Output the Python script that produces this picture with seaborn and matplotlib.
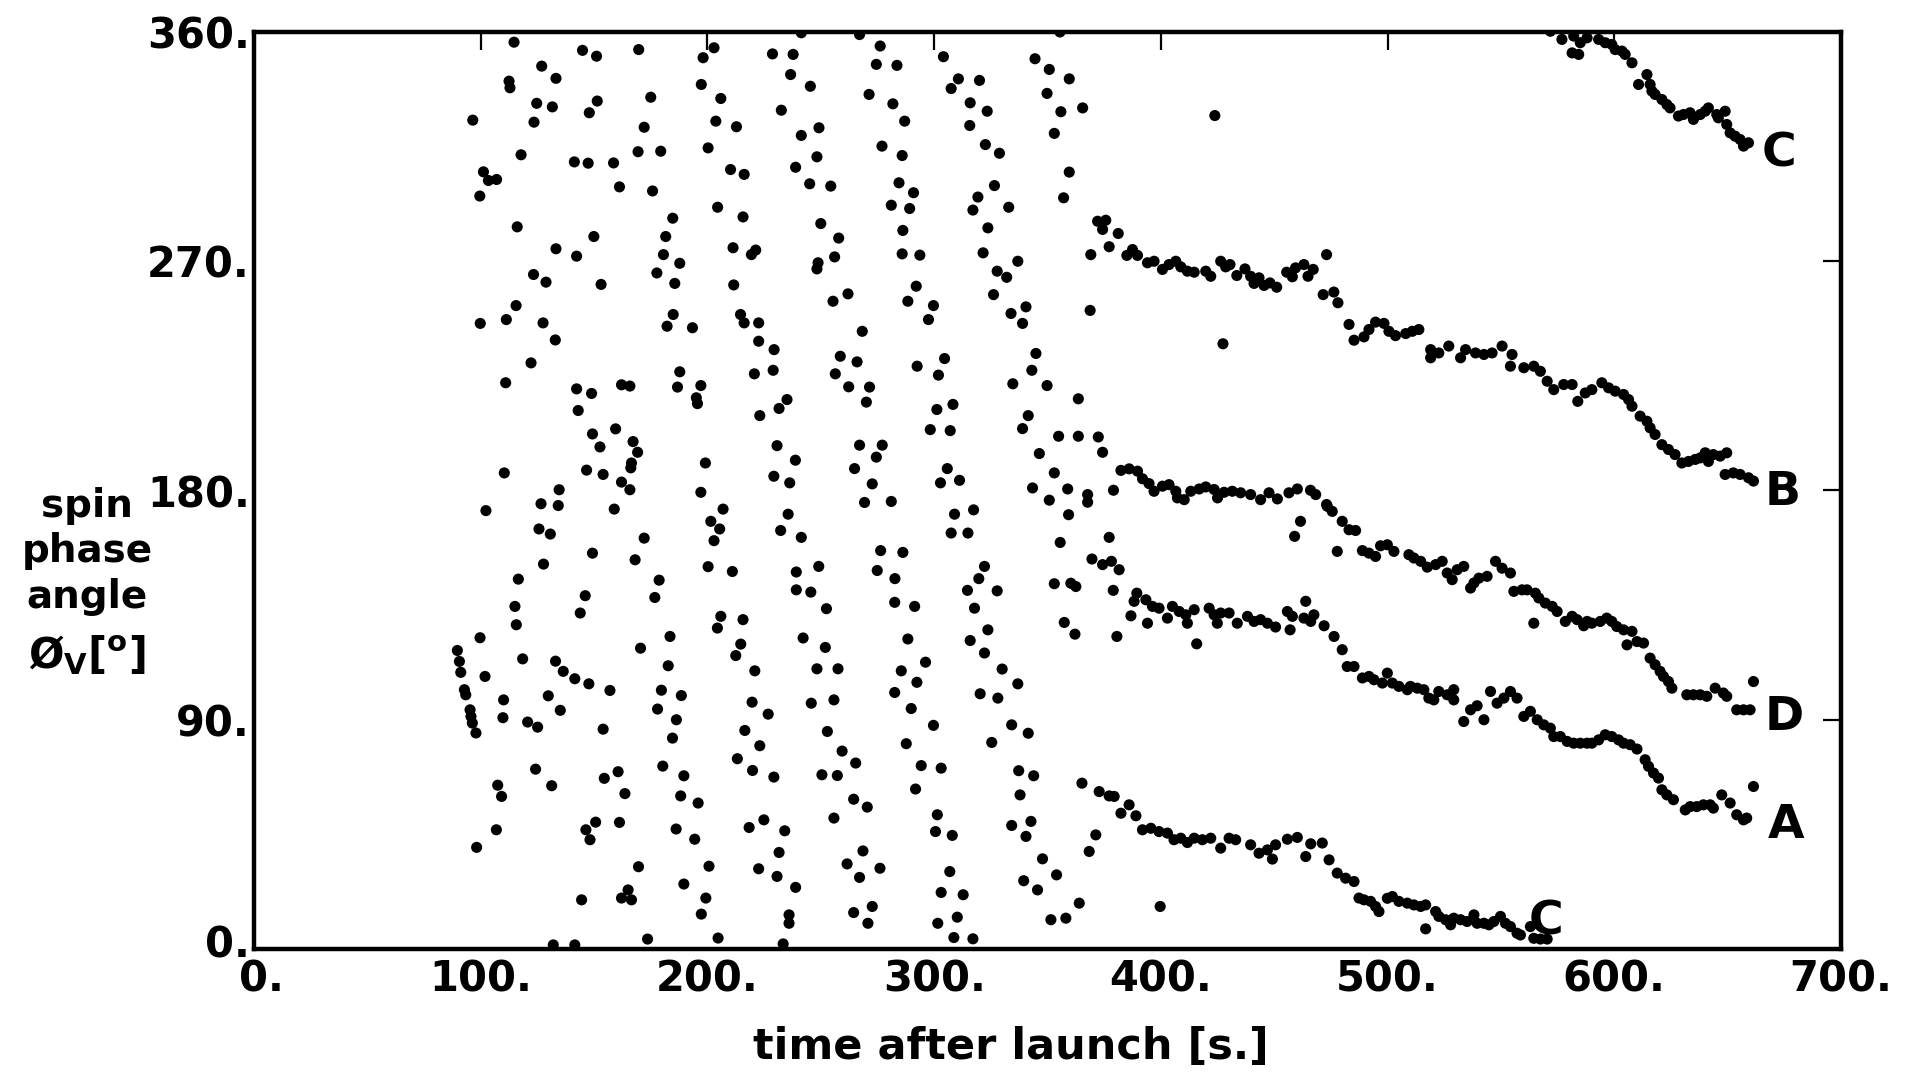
import matplotlib
matplotlib.use("Agg")
import matplotlib.pyplot as plt
import matplotlib.transforms as mtransforms
import pandas as pd
import seaborn as sns

# ---- measured spin phase angle (deg) vs time after launch (s) ----
# irregular phase readings during the first minutes (time, phase)
burst_early = [
    (114.7, 356), (144.9, 352.8), (151.1, 350.5), (169.7, 353.1), (198.1, 349.9), (202.9, 353.8),
    (126.9, 346.6), (133.2, 341.8), (112.5, 340.7), (112.9, 338.1), (197.3, 339.4), (175.0, 334.4),
    (205.9, 333.9), (124.7, 332), (131.6, 330.6), (151.4, 332.9), (147.9, 328.3), (96.5, 325.4),
    (123.5, 324.6), (172.1, 322.6), (203.7, 325), (117.8, 311.8), (141.3, 309), (147.4, 308.5),
    (158.6, 308.6), (169.4, 313), (179.4, 313.2), (200.3, 314.5), (101.2, 305.1), (103.4, 301.7),
    (107.0, 302.1), (99.6, 295.6), (161.2, 299.2), (175.8, 297.6), (204.5, 291.2), (116.1, 283.5),
    (184.7, 286.9), (149.9, 279.7), (181.6, 279.7), (133.2, 274.9), (142.3, 272), (180.6, 272.6),
    (187.8, 269.2), (123.3, 264.8), (128.8, 261.8), (153.1, 260.9), (177.7, 265.4), (185.6, 261.3),
    (115.6, 252.6), (99.8, 245.6), (111.3, 247.1), (127.5, 245.8), (132.9, 239.1), (184.9, 249.1),
    (182.2, 244.5), (193.4, 243.9), (122.2, 230.1), (111, 222.3), (142.3, 219.9), (148.9, 218.1),
    (162.1, 221.5), (165.8, 221), (187.8, 226.6), (186.8, 220.6), (197.1, 221.2), (195.1, 216.4),
    (195.6, 214.1), (143, 211.4), (149.3, 202.2), (159.5, 204.2), (152.6, 197.1), (167.2, 199.2),
    (169.2, 195), (166.5, 190.8), (166.2, 188.9), (199.1, 190.8), (110.4, 186.9), (146.7, 188),
    (154, 186.3), (162.1, 183.3),
    (134.6, 180.3), (165.8, 180.3), (197.1, 179.3), (126.6, 174.8), (134.2, 174.1), (158.9, 172.7),
    (102.3, 172.1), (201.5, 167.9), (205.4, 164.9), (125.7, 164.9), (130.7, 162.9), (172.1, 161.3),
    (202.9, 160.3), (149.3, 155.4), (127.7, 151.1), (168.1, 152.8), (200.3, 150.1), (116.6, 145.2),
    (178.7, 144.8), (146.1, 138.7), (176.8, 138), (115.1, 134.5), (143.9, 131.9), (205.9, 130.6),
    (204.4, 126), (115.7, 127.3), (99.7, 122.2), (183.5, 122.7), (89.7, 117.2), (90.6, 112.9),
    (91.2, 108.6), (170.5, 118.1), (118.5, 113.9), (133, 113), (136.4, 109), (101.9, 107),
    (182.7, 111.2), (141.5, 106.1), (147.7, 104.1), (157, 101.5), (92.8, 101.8), (93.4, 99.8),
    (110.1, 97.8), (129.8, 99.4), (179.7, 101.6), (188.5, 99.5), (95.3, 93.9), (95.7, 91.3),
    (96.3, 88.7), (97.9, 84.8), (109.8, 90.8), (135.1, 93.7), (120.7, 89.1), (125.1, 87.1),
    (178, 94.2), (186.3, 90), (154, 86.3), (184.6, 82.8), (180.3, 71.8), (124.2, 70.6),
    (160.6, 69.6), (154.5, 67), (189.6, 68), (107.5, 64.3), (109.2, 59.9), (131.3, 64.1),
    (163.6, 61), (188.2, 60.1), (195.9, 57.3), (150.7, 49.8), (161.2, 49.7), (106.9, 46.8),
    (146.4, 46.8), (148.2, 42.9), (186.2, 47.1), (194.4, 43.1), (98.2, 39.9), (169.6, 32.3),
    (200.7, 32.5), (189.6, 25.5), (165, 23.2), (162.1, 20), (166.5, 19.3), (144.5, 19.3),
    (199.3, 20), (197.3, 13.7), (132, 1.6), (141.5, 1.6), (173.6, 3.9), (204.7, 4.3),
]

burst_middle = [
    (241.4, 359.7), (267.1, 359), (276.2, 354.5), (228.7, 351.4), (237.8, 351.2), (274.5, 347.3),
    (283.6, 346.9), (304.1, 350.3), (236.7, 343.3), (245.4, 338.7), (310.7, 341.6), (307.5, 337.8),
    (320, 341), (271.3, 335.5), (281.8, 331.8), (232.6, 329.3), (315.9, 332.2), (323.4, 328.9),
    (212.8, 322.8), (241.4, 319.4), (249.2, 322.4), (287, 325), (315.7, 323.3), (248.3, 311),
    (277, 315.2), (285.9, 311.5), (322.6, 315.8), (328.8, 312.4), (210.2, 306), (216.2, 304.1),
    (238.9, 306.9), (245.1, 300.4), (254.4, 299.5), (284.5, 300.8), (290.9, 296.9), (326.6, 299.7),
    (281.1, 292), (289.2, 290.7), (319.3, 295.2), (317.1, 290.1), (332.9, 291.2), (215.7, 287.4),
    (250, 284.8), (286.2, 282.1), (323.7, 283.1), (211.3, 275.3), (219.4, 272.6), (221.3, 274.4),
    (257.9, 279.1), (256.1, 271.7), (248.8, 269.4), (248.3, 267), (285.9, 272.9), (293.7, 272.4),
    (321.6, 273.3), (336.9, 270), (327.8, 266.1), (332, 263.7), (211.6, 260.7), (255.4, 254.3),
    (262, 257.2), (292.1, 260.2), (288.4, 254.3), (326.2, 256.9), (299.7, 252.6), (297.5, 247.1),
    (214.6, 249.1), (216.2, 245.8), (222.6, 245.8), (333.9, 249.5), (268.3, 242.5), (222.6, 238.6),
    (229.4, 235.3), (258.6, 232.7), (266, 230.5), (304.6, 231.8), (301.9, 225.3), (292.5, 228.8),
    (220.7, 225.8), (229, 227.2), (256.4, 225.8), (262.3, 220.7), (271.5, 220.6), (334.7, 221.9),
    (235.1, 215.7), (231.6, 212.2), (270.1, 214.7), (308.3, 213.8), (301.2, 211.8), (223.1, 209.4),
    (298.3, 203.9), (307.1, 203.5), (230.7, 197.6), (267.1, 197.8), (277.1, 197.8), (274.5, 193.1),
    (238.8, 191.9), (264.9, 188.6), (305.8, 188.6), (302.8, 183), (311.2, 184), (229.3, 185.6),
    (236.3, 183), (272.7, 182.6),
    (206.9, 172.7), (269.3, 175.3), (281.1, 175.7), (309, 170.7), (317.4, 172.4), (235.6, 170.7),
    (232.3, 164.3), (241.4, 161.6), (307.5, 163.3), (314.9, 163.3), (276.4, 156.4), (286.2, 155.7),
    (211, 148.2), (239.2, 148), (249.1, 150.2), (274.9, 148.6), (282.7, 145.4), (322.2, 150.2),
    (319.7, 145.4), (314.7, 140.8), (327.8, 140.6), (239.2, 141), (245.6, 140.1), (282.6, 136.1),
    (291.4, 134.5), (252.5, 133.6), (317.8, 133.8), (215.7, 129.3), (214.7, 119.7), (212.5, 115.2),
    (242.2, 122.1), (252, 118.4), (288.4, 121.7), (323.7, 125.3), (315.9, 121.1), (322.2, 116.2),
    (220.9, 109.2), (248.3, 110), (257.6, 110), (285.5, 109.2), (296.2, 112.6), (292.4, 104.7),
    (330, 109.9), (336.9, 104.1), (282.6, 100.7), (320.3, 100.2), (328.1, 98.5), (219.7, 96.9),
    (226.8, 92.2), (245.8, 96.5), (255.8, 97.8), (289.9, 94.4), (216.5, 85.8), (223.1, 79.8),
    (252.9, 85.4), (299.7, 87.8), (287.7, 80.6), (334.2, 88), (325.4, 81.1), (213.2, 74.7),
    (219.9, 70.1), (229.3, 67.5), (259.4, 77.7), (265.4, 73), (250.5, 68.4), (257.3, 68.1),
    (294.3, 72), (303.1, 71), (291.8, 62.8), (337.3, 70), (337.9, 60.5), (264.5, 58.8),
    (270.5, 55.7), (255.8, 51.4), (301.4, 52.7), (300.6, 46.1), (308, 44.6), (218.4, 47.7),
    (224.9, 50.7), (234.1, 46.4), (334.2, 48.5), (231.6, 37.9), (268.6, 38.5), (261.6, 33.4),
    (276.1, 31.7), (267.1, 28.1), (222.6, 31.5), (230.7, 28.5), (238.9, 24.2), (306.9, 30.4),
    (303.1, 22.2), (312.8, 21.3), (236, 13.4), (236, 10.1), (264.5, 14.3), (272.7, 16.7),
    (270.8, 10.1), (301.6, 10.1), (310.2, 12.5), (308.7, 4.5), (317.1, 4), (233.4, 2),
]

burst_late = [
    (355.5, 360), (344.5, 349.5), (350.8, 345.3), (359.6, 341.6), (349.8, 335.9), (355.9, 328.7),
    (365.5, 330.2), (353, 320.2), (423.8, 327.2), (359.6, 305), (357.1, 294.9), (369.1, 272.6),
    (368.8, 250.7), (340.5, 252.1), (339, 245.6), (427.4, 237.6), (344.9, 233.8), (343.1, 227.2),
    (349.8, 221.2), (363.6, 216), (341.5, 209.4), (339, 204.3), (354.9, 201.3), (363.6, 201.3),
    (372.4, 201), (346.4, 194.5), (374.3, 195), (353, 186.9), (358.9, 180.6), (343.4, 181),
    (367.7, 178.4), (367.7, 175.4), (379.1, 180.1), (350.8, 176.2),
    (359.3, 170.5), (355.6, 159.6), (377.2, 161.6), (369.6, 153.1), (374.3, 150.9), (378.2, 152.2),
    (381.6, 148.9), (353, 143.4), (360.3, 143.6), (362.5, 142.3), (379, 140.8), (357.4, 128.2),
    (362.1, 123.6), (380.6, 122.7), (415.8, 119.8),
    (341.5, 84.7), (343.9, 68), (340.5, 44.2), (342.7, 50.1), (347.8, 35.4), (354, 29.1),
    (339.5, 26.8), (345.6, 23.2), (351.5, 11.5), (358.1, 12.1), (364, 18), (399.7, 16.7),
    (365.2, 65.1), (372.8, 61.8), (377.2, 60.1), (379.4, 59.9), (382.4, 53.3), (386, 56.6),
    (389, 52.3), (371.3, 44.8), (368.4, 38.3),
]

# steady drift of the four phase tracks after ~370 s
track_A = [
    (389.4, 139.7), (388.2, 136.5), (393.4, 137.1), (396.3, 134.5), (399.2, 133.8), (405.1, 134.5),
    (408.1, 132.5), (411, 131.2), (414.7, 133.2), (411.7, 127.9), (421.3, 133.8), (423.5, 131.2),
    (426.4, 131.9), (430.1, 131.9), (424.9, 127.9), (433.7, 127.9), (438.2, 130.6), (441.1, 128.6),
    (444, 129.3), (447, 127.9), (450.6, 126.4), (455.8, 132.5), (458, 130.6), (463.9, 136.5),
    (463.1, 129.9), (467.5, 131.2), (466.1, 128.6), (457, 125.3), (386.8, 130.8), (394.1, 127.9),
    (402.9, 129.9),
    (472, 126.9), (476.4, 122.7), (480, 117.5), (482.2, 110.9), (485.2, 110.9), (488.9, 106.4),
    (491.8, 107), (494, 105.7), (497.7, 104.4), (499.9, 108.3), (502.1, 104.4), (505, 103.1),
    (508.7, 101.8), (510.1, 103.1), (513.1, 102.4), (516, 101.8), (518.2, 98.5), (520.4, 97.8),
    (522.6, 101.1), (526.3, 99.8), (529.2, 101.8), (529.2, 97.8), (533.6, 89.3), (536.6, 93.9),
    (539.5, 95.5), (542.5, 90), (545.4, 101.1), (548.3, 96.5), (551.3, 98.5), (554.2, 101.1),
    (557.1, 98.5), (560.1, 91.3), (563, 93.3), (566, 90), (568.9, 88), (571.8, 86.7),
    (573.3, 83.4), (576.2, 83.4), (579.2, 81.5), (582.1, 80.8), (585, 80.8), (588, 80.8),
    (590.1, 80.8), (593.1, 82.1), (596, 84.1), (598.9, 83.4), (601.9, 82.1), (604.1, 80.8),
    (607, 80.2), (610, 78.5), (613.6, 74.3), (615.1, 71.7), (617.3, 69.1), (619.5, 67.1),
    (621, 62.5), (623.2, 60.5), (626.1, 58.6), (631.3, 54.6), (633.5, 55.9), (636.4, 55.9),
    (639.3, 56.6), (642.3, 56.6), (643.7, 55.3), (647.4, 60.5), (651.1, 57.3), (654, 52.7),
    (657, 50.7), (658.4, 51.4), (661.4, 63.8),
]

track_B = [
    (372.1, 285.7), (375.7, 286.1), (374.3, 282.5), (381.2, 280.9), (377.2, 275.7), (387.5, 274.6),
    (385, 272.3), (389.7, 272.3), (394.1, 269.4), (397, 270), (400.7, 266.8), (403.6, 268.7),
    (406.6, 270), (408.8, 267.8), (411.7, 266.1), (414.7, 265.7), (419.8, 266.1), (422, 264.1),
    (426.4, 270), (428.6, 267.8), (430.5, 268.7), (433.5, 264.4), (437.1, 267), (439.6, 264.1),
    (441.1, 261.3), (443.3, 263.5), (445.5, 260.5), (448.1, 261.5), (451.1, 259.8), (455.5, 265.7),
    (458, 263.9), (459.4, 267.4), (463.1, 268.7), (464.9, 264.1), (467.2, 266.8), (473.1, 272.6),
    (471.6, 256.9), (476.3, 257.9), (478.1, 253.7),
    (483, 245.2), (485.2, 239), (489.6, 240.3), (491.8, 243.2), (494.7, 246.1), (498.4, 245.6),
    (500.6, 242.5), (503.5, 240.8), (508, 241.6), (510.9, 242.5), (513.8, 243.2), (519, 232.1),
    (519, 235.3), (522.6, 234), (527, 236.7), (532.2, 232.1), (534.4, 235.3), (538.8, 234),
    (542.5, 233.4), (546.1, 234), (550.5, 236.7), (554.9, 233.4), (554.2, 228.8), (560.1, 228.2),
    (564.5, 228.8), (567.4, 226.8), (570.4, 222.9), (573.3, 219.6), (577.7, 221.6), (581.4, 221.6),
    (583.9, 215), (587.2, 218.3),
    (590.1, 219.6), (594.5, 222.3), (597.5, 220.3), (600.4, 219), (604.1, 217.7), (606.3, 215.7),
    (607.8, 213.1), (611.4, 209.2), (614.4, 207.2), (615.8, 204.6), (618, 202), (621, 198),
    (623.9, 196.1), (626.8, 194.1), (629.8, 190.8), (632.7, 191.4), (635.7, 192.2), (637.9, 192.8),
    (640.1, 194.8), (641.5, 191.4), (643.7, 194.1), (646.7, 193.5), (649.6, 194.8), (648.9, 186.3),
    (652.5, 186.9), (655.5, 186.3), (659.2, 185), (661.4, 183.7),
]

track_C_low = [
    (391.9, 46.8), (395.6, 47.4), (399.2, 46.1), (402.9, 45.5), (405.8, 42.9), (408.8, 43.5),
    (411.7, 41.8), (414.7, 43.5), (418.3, 42.9), (422, 43.5), (426.4, 39.6), (430.1, 43.5),
    (433, 42.9), (439.6, 40.9), (443.3, 37.6), (447, 38.9), (450.6, 40.9), (449.2, 35.3),
    (455.8, 43.1), (460.2, 43.8), (463.9, 36.3), (466.1, 41.3),
    (471.2, 41.6), (474.2, 35), (477.8, 29.8), (481.5, 27.8), (485.2, 26.5), (487.4, 20),
    (489.6, 19.3), (492.5, 18.7), (494.7, 16.7), (496.2, 14.7), (499.9, 19.9), (502.1, 20.6),
    (505, 18.7), (508.7, 18), (511.6, 17.3), (514.6, 16.7), (516.8, 17.3), (521.2, 14.7),
    (522.6, 12.8), (525.6, 11.5), (527.8, 9.5), (529.2, 12.1), (532.2, 11.5), (535.1, 10.8),
    (538.1, 13.4), (539.5, 10.1), (542.5, 10.1), (544.7, 9.5), (546.9, 10.8), (549.8, 12.8),
    (552, 10.1), (554.2, 8.8), (557.1, 6.2), (558.6, 5.5), (516.8, 7.9), (563, 8.8),
    (564.5, 4.2), (567.4, 3.9), (570.4, 3.9),
]

track_C_high = [
    (571.8, 360.3), (576.9, 357.1), (582.1, 358.4), (585, 355.8), (581.4, 351.8), (584.3, 351.2),
    (588, 357.7), (593.1, 357.1), (596, 355.8), (598.9, 355.1), (600.4, 353.1), (603.4, 352.5),
    (604.8, 351.2), (607.8, 347.9), (610.7, 339.4), (614.4, 343.3), (615.8, 339.4), (616.6, 336.8),
    (618, 335.5), (621, 333.5), (623.2, 331.5), (624.6, 330.2), (628.3, 327), (630.5, 327.6),
    (633.4, 328.3), (634.9, 325.7), (637.9, 327.6), (640.1, 328.9), (641.5, 330.2), (645.2, 327.6),
    (645.9, 326.3), (648.9, 328.9), (649.6, 323.7), (651.1, 320.4), (653.3, 319.1), (655.5, 317.8),
    (657, 315.2), (659.2, 316.5),
]

track_D = [
    (382.4, 187.9), (386, 188.5), (389.7, 187.6), (391.9, 184.6), (394.8, 182.7), (397, 179.7),
    (400.7, 181.7), (403.6, 182.3), (406.6, 179.7), (410.3, 176.4), (407.3, 177.1), (413.2, 179.7),
    (416.9, 180.6), (419.8, 181.4), (423.5, 180.4), (425, 177.1), (427.9, 179.3), (431.5, 179.7),
    (435.2, 179.1), (439.6, 178.4), (444, 176.4), (447.7, 179.1), (451.4, 176.7), (456.5, 179.1),
    (460.2, 180.6), (466, 180.1), (468.3, 178.4), (473.1, 174.5), (461.6, 167.9), (459, 162),
    (473.4, 173.8), (475.6, 171.8), (480, 167.9), (483, 164.6), (485.9, 164.3), (477.8, 156.1),
    (488.9, 156.4), (491.8, 155.4), (494.7, 154.1), (496.9, 158.3), (499.9, 158.7), (502.8, 156.1),
    (509.4, 154.8), (511.6, 153.5), (514.6, 152.2), (517.5, 149.9), (521.2, 150.9), (524.1, 152.2),
    (526.3, 147.6), (528.5, 145), (530.7, 148.9), (533.6, 150.2), (536.6, 141.7), (538.1, 143.7),
    (540.3, 145.6), (543.9, 146.3), (547.6, 152.2), (550.5, 149.5), (554.2, 147.6), (555.7, 140.4),
    (559.3, 141), (561.5, 141), (565.2, 139.7), (566.7, 137.8), (569.6, 135.8), (572.6, 134.5),
    (574.8, 132.5), (564.5, 127.9), (578.4, 128.6), (581.4, 130.6), (583.6, 129.3), (586.5, 126.9),
    (588, 128.6),
    (590.1, 127.9), (593.8, 128.6), (596.7, 129.9), (598.9, 128.6), (601.1, 126.6), (604.1, 125.3),
    (607.8, 124.7), (605.6, 119.4), (610, 120.7), (612.9, 120.1), (615.8, 114.2), (618, 111.6),
    (620.2, 109), (621.7, 107), (623.9, 105), (625.4, 102.4), (632, 99.8), (634.9, 99.8),
    (637.9, 99.8), (640.8, 99.2), (644.5, 102.4), (648.1, 100.5), (649.6, 99.2), (654, 93.9),
    (657, 93.9), (659.9, 93.9), (661.4, 105),
]

# track name, label position (time, phase of the letter baseline)
track_labels = [("C", 672.7, 307.3), ("B", 674.4, 174.4), ("D", 674.9, 86.0),
                ("A", 675.8, 43.6), ("C", 569.8, 5.5)]

x_ticks = [0, 100, 200, 300, 400, 500, 600, 700]
y_ticks = [0, 90, 180, 270, 360]

# ---- assemble ----
groups = {
    "early": burst_early, "middle": burst_middle, "late": burst_late,
    "A": track_A, "B": track_B, "C1": track_C_low, "C2": track_C_high, "D": track_D,
}
rows = [(g, t, p) for g, pts in groups.items() for t, p in pts]
df = pd.DataFrame(rows, columns=["group", "t", "phi"])

sns.set_theme(style="white")
plt.rcParams["font.family"] = ["DejaVu Sans"]
plt.rcParams["mathtext.fontset"] = "dejavusans"
plt.rcParams["text.color"] = "black"

W, H = 1908, 1077
fig = plt.figure(figsize=(W / 100, H / 100), dpi=100)
fig.patch.set_facecolor("white")
ax = fig.add_axes([254 / W, 1 - 949 / H, (1841 - 254) / W, (949 - 32) / H])

sns.scatterplot(data=df, x="t", y="phi", color="black", s=64, marker="o",
                edgecolor="none", linewidth=0, legend=False, ax=ax)

ax.set_xlim(0, 700)
ax.set_ylim(0, 360)
ax.set_xticks(x_ticks)
ax.set_yticks(y_ticks)
ax.set_xticklabels([f"{v}." for v in x_ticks], fontsize=30, fontweight="bold")
ax.set_yticklabels([f"{v}." for v in y_ticks], fontsize=30, fontweight="bold")
ax.tick_params(axis="both", direction="in", length=13, width=1.6, color="black",
               top=True, right=True, labelcolor="black")
ax.tick_params(axis="x", pad=7)
ax.tick_params(axis="y", pad=3)
ax.set_xlabel("")
ax.set_ylabel("")
for side in ax.spines.values():
    side.set_visible(True)
    side.set_color("black")
    side.set_linewidth(3.2)

# the two "0." labels meet at the origin corner; nudge them apart a little
x0_label = ax.get_xticklabels()[0]
x0_label.set_transform(x0_label.get_transform()
                       + mtransforms.ScaledTranslation(7 / 100, 0, fig.dpi_scale_trans))
y0_label = ax.get_yticklabels()[0]
y0_label.set_transform(y0_label.get_transform()
                       + mtransforms.ScaledTranslation(0, 8 / 100, fig.dpi_scale_trans))

for name, tx, ty in track_labels:
    ax.text(tx, ty, name, fontsize=34, fontweight="bold", ha="center", va="baseline",
            color="black")

fig.text(1011 / W, 1 - 1047 / H, "time after launch [s.]", fontsize=31, fontweight="bold",
         ha="center", va="center", color="black")

ylab_x = 87 / W
for line, base in [("spin", 517), ("phase", 562), ("angle", 608)]:
    fig.text(ylab_x, 1 - base / H, line, fontsize=28, fontweight="bold",
             ha="center", va="baseline", color="black")
fig.text(ylab_x, 1 - 668 / H, r"Ø$_{\mathbf{V}}$[$^{\mathbf{o}}$]", fontsize=30,
         fontweight="bold", ha="center", va="baseline", color="black")

fig.savefig("out.png", dpi=100, facecolor="white")
